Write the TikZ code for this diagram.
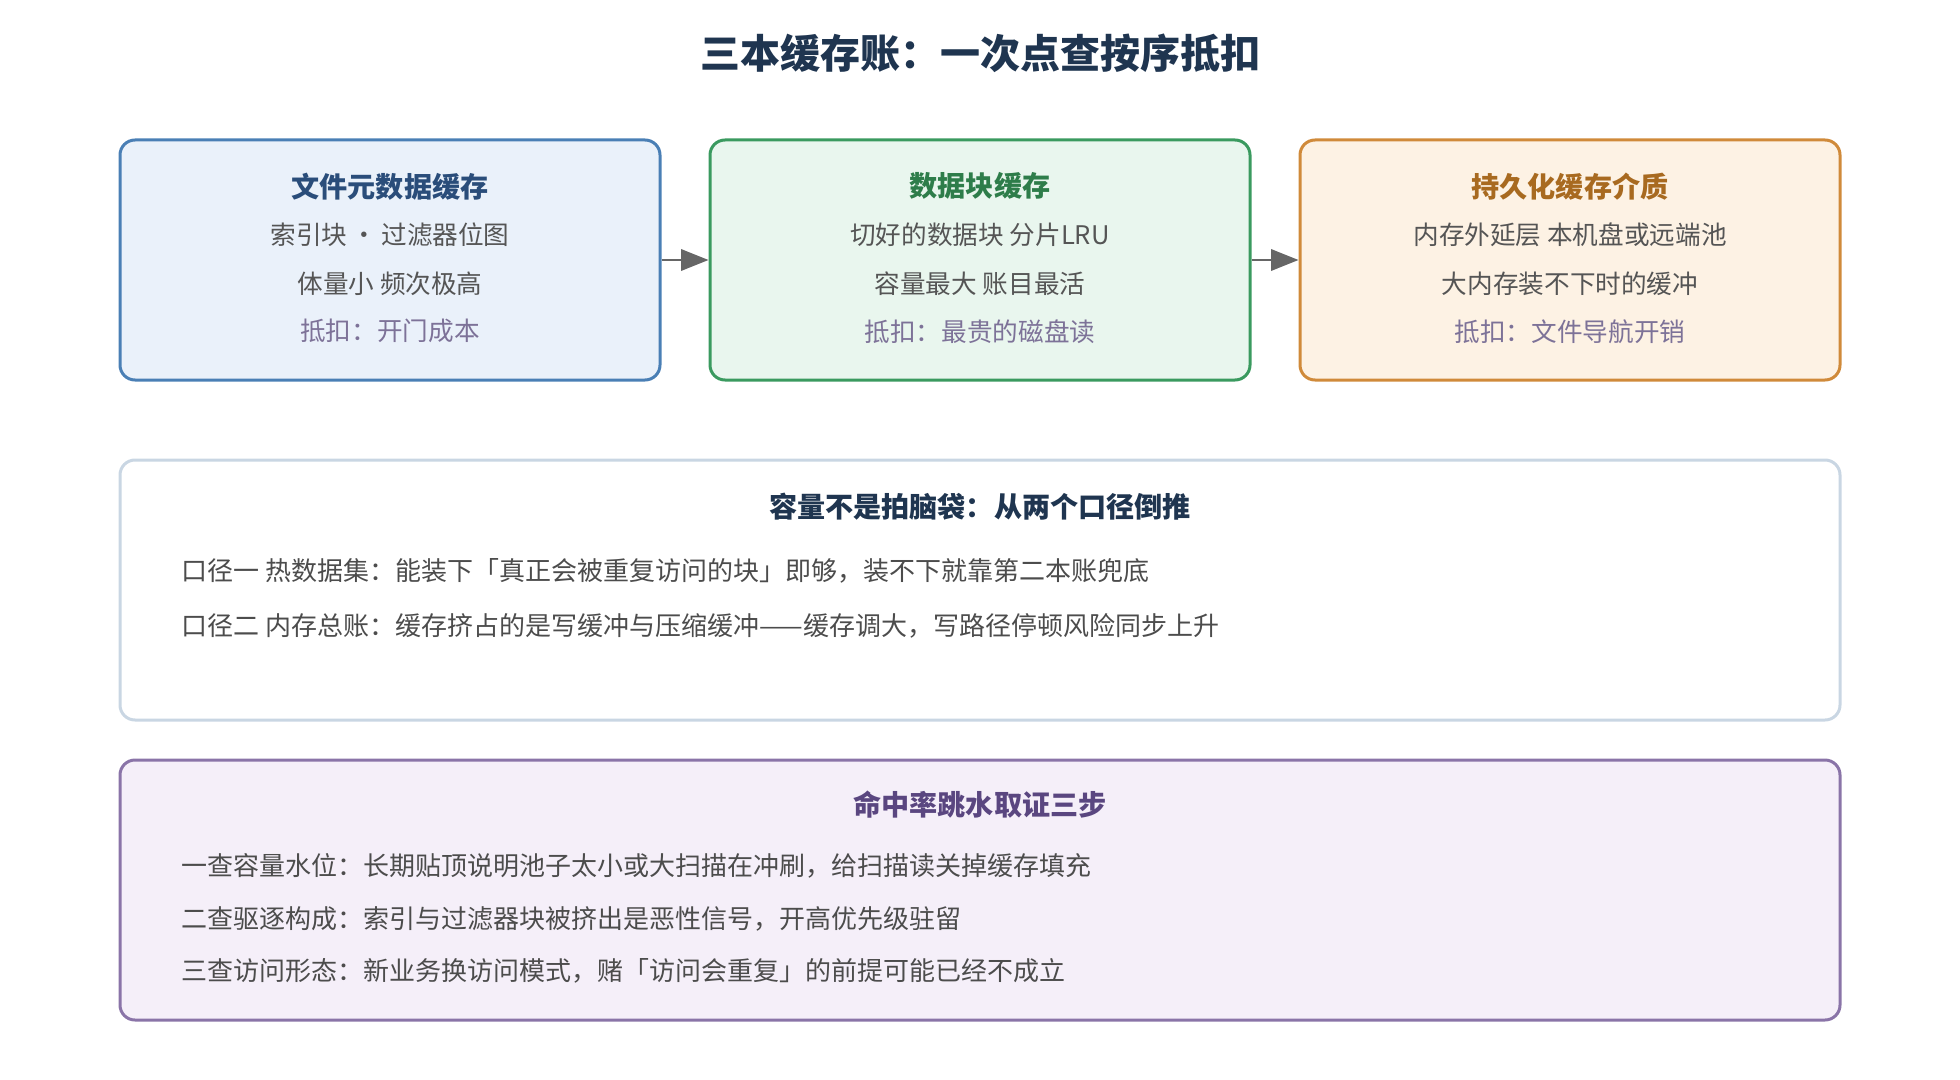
\documentclass[tikz,border=0pt]{standalone}
\usepackage{fontspec}
\setmainfont{Noto Sans CJK SC}
\usetikzlibrary{arrows.meta}
\definecolor{navy}{HTML}{1F3550}
\definecolor{txt}{HTML}{555555}
\definecolor{low}{HTML}{7D7298}
\definecolor{bd1}{HTML}{4A7FB5}\definecolor{bg1}{HTML}{EAF1FA}\definecolor{tt1}{HTML}{2A4D7A}
\definecolor{bd2}{HTML}{3A9A5F}\definecolor{bg2}{HTML}{E9F6EE}\definecolor{tt2}{HTML}{2E7D4A}
\definecolor{bd3}{HTML}{D08A3A}\definecolor{bg3}{HTML}{FDF2E4}\definecolor{tt3}{HTML}{A86A20}
\definecolor{bd4}{HTML}{C9D6E3}
\definecolor{bd5}{HTML}{8A74A8}\definecolor{bg5}{HTML}{F5EFF9}\definecolor{tt5}{HTML}{5A4680}
\tikzset{
 box/.style={draw, line width=2.4pt, rounded corners=12pt, inner sep=0pt},
 ttl/.style={font=\fontsize{22.5}{26}\selectfont\bfseries, anchor=center},
 ln/.style={font=\fontsize{20.5}{24}\selectfont, text=txt, anchor=center},
 lnl/.style={font=\fontsize{20.8}{24}\selectfont, text=txt, anchor=west},
 arr/.style={draw=black!60, line width=2.2pt, -{Triangle[length=22pt,width=17pt]}},
}
\begin{document}
\begin{tikzpicture}[x=1pt,y=-1pt]
\useasboundingbox (0,0) rectangle (1568,864);
\node[font=\fontsize{32}{36}\selectfont\bfseries, text=navy] (title) at (784,43) {三本缓存账：一次点查按序抵扣};
% top boxes
\node[box, draw=bd1, fill=bg1, minimum width=432, minimum height=192] (b1) at (312,208) {};
\node[box, draw=bd2, fill=bg2, minimum width=432, minimum height=192] (b2) at (784,208) {};
\node[box, draw=bd3, fill=bg3, minimum width=432, minimum height=192] (b3) at (1256,208) {};
\draw[arr] (b1.east) -- (b2.west);
\draw[arr] (b2.east) -- (b3.west);
\node[ttl, text=tt1] (t1) at (312,149) {文件元数据缓存};
\node[ln] (t1a) at (312,188) {索引块\,·\,过滤器位图};
\node[ln] (t1b) at (312,227) {体量小 频次极高};
\node[ln, text=low] (t1c) at (312,265) {抵扣：开门成本};
\node[ttl, text=tt2] (t2) at (784,149) {数据块缓存};
\node[ln] (t2a) at (784,188) {切好的数据块 分片LRU};
\node[ln] (t2b) at (784,227) {容量最大 账目最活};
\node[ln, text=low] (t2c) at (784,265) {抵扣：最贵的磁盘读};
\node[ttl, text=tt3] (t3) at (1256,149) {持久化缓存介质};
\node[ln] (t3a) at (1256,188) {内存外延层 本机盘或远端池};
\node[ln] (t3b) at (1256,227) {大内存装不下时的缓冲};
\node[ln, text=low] (t3c) at (1256,265) {抵扣：文件导航开销};
% middle
\node[box, draw=bd4, fill=white, minimum width=1376, minimum height=208] (b4) at (784,472) {};
\node[ttl, text=navy] (t4) at (784,405) {容量不是拍脑袋：从两个口径倒推};
\node[lnl, text=black!70] (t4a) at (142,457) {口径一 热数据集：能装下「真正会被重复访问的块」即够，装不下就靠第二本账兜底};
\node[lnl, text=black!70] (t4b) at (142,501) {口径二 内存总账：缓存挤占的是写缓冲与压缩缓冲——缓存调大，写路径停顿风险同步上升};
% bottom
\node[box, draw=bd5, fill=bg5, minimum width=1376, minimum height=208] (b5) at (784,712) {};
\node[ttl, text=tt5] (t5) at (784,644) {命中率跳水取证三步};
\node[lnl, text=black!70] (t5a) at (142,693) {一查容量水位：长期贴顶说明池子太小或大扫描在冲刷，给扫描读关掉缓存填充};
\node[lnl, text=black!70] (t5b) at (142,735) {二查驱逐构成：索引与过滤器块被挤出是恶性信号，开高优先级驻留};
\node[lnl, text=black!70] (t5c) at (142,777) {三查访问形态：新业务换访问模式，赌「访问会重复」的前提可能已经不成立};
\end{tikzpicture}
\end{document}
